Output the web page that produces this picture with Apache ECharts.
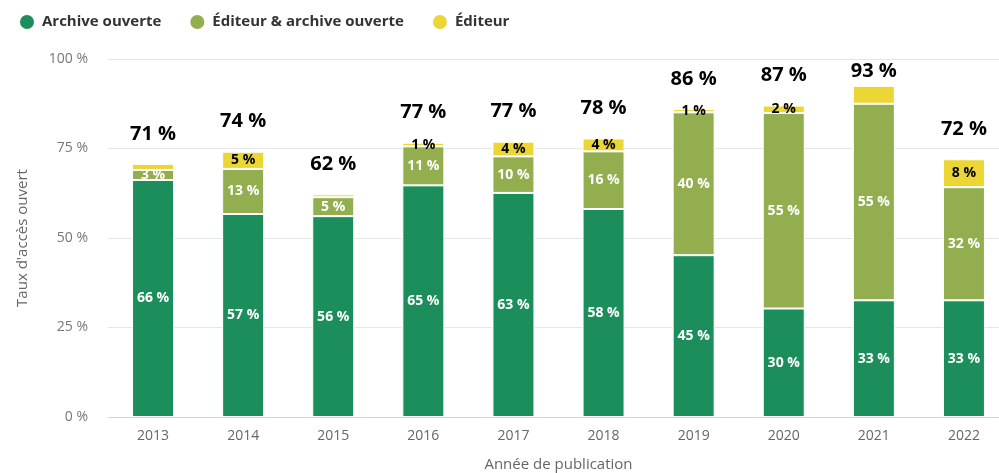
<!DOCTYPE html>
<html>
<head>
<meta charset="utf-8">
<script src="https://cdn.jsdelivr.net/npm/echarts@6/dist/echarts.min.js"></script>
<style>
  html, body { margin: 0; padding: 0; background: #fff; }
  #chart { width: 999px; height: 473px; }
</style>
</head>
<body>
<div id="chart"></div>
<script>
// années de publication
var years = ['2013', '2014', '2015', '2016', '2017', '2018', '2019', '2020', '2021', '2022'];
// taux par type d'accès (en %)
var archive = [66.2, 56.7, 56.1, 64.7, 62.6, 58.1, 45.2, 30.3, 32.6, 32.6];
var editeurArchive = [2.8, 12.6, 5.3, 10.9, 10.2, 16.1, 39.9, 54.6, 54.9, 31.6];
var editeur = [1.7, 4.8, 0.8, 1.0, 4.1, 3.6, 0.9, 2.1, 5.0, 7.8];
var totals = [71, 74, 62, 77, 77, 78, 86, 87, 93, 72];
// étiquettes masquées dans la série « Éditeur »
var hiddenEditeur = [0, 2, 8];
var yTicks = [0, 25, 50, 75, 100];

var chart = echarts.init(document.getElementById('chart'));

var labelFont = 'Open Sans, sans-serif';

function segLabel(color) {
    return {
        show: true,
        position: 'inside',
        color: color,
        fontFamily: labelFont,
        fontWeight: 'bold',
        fontSize: 14,
        formatter: function (p) { return Math.round(p.value) + ' %'; }
    };
}

var editeurData = editeur.map(function (v, i) {
    if (hiddenEditeur.indexOf(i) >= 0) {
        return { value: v, label: { show: false } };
    }
    return v;
});

var totalData = totals.map(function (t, i) {
    return {
        value: 0,
        label: { distance: i === 8 ? 5 : 20 }
    };
});

var option = {
    animation: false,
    legend: {
        left: 13,
        top: 8,
        itemGap: 27,
        icon: 'circle',
        itemWidth: 20,
        itemHeight: 16,
        textStyle: { fontSize: 15, fontWeight: 'bold', color: '#333', fontFamily: labelFont },
        data: ['Archive ouverte', 'Éditeur & archive ouverte', 'Éditeur']
    },
    grid: { left: 108, width: 901, top: 59, height: 358, outerBoundsMode: 'none' },
    xAxis: {
        type: 'category',
        data: years,
        name: 'Année de publication',
        nameLocation: 'middle',
        nameGap: 40,
        nameTextStyle: { fontSize: 15, color: '#666', fontFamily: labelFont },
        axisLine: { lineStyle: { color: '#ccd6eb' } },
        axisTick: { show: false },
        axisLabel: { fontSize: 14, color: '#666', margin: 12, fontFamily: labelFont }
    },
    yAxis: {
        type: 'value',
        min: yTicks[0],
        max: yTicks[yTicks.length - 1],
        interval: 25,
        name: "Taux d'accès ouvert",
        nameLocation: 'middle',
        nameGap: 78,
        nameTextStyle: { fontSize: 15, color: '#666', fontFamily: labelFont },
        axisLabel: { fontSize: 14, color: '#777', margin: 20, fontFamily: labelFont,
            formatter: function (v) { return v + ' %'; } },
        splitLine: { lineStyle: { color: '#e6e6e6' } }
    },
    color: ['#1b8e5b', '#93ae4f', '#ebd636'],
    series: [
        {
            name: 'Archive ouverte',
            type: 'bar',
            stack: 'oa',
            barWidth: 42,
            itemStyle: { borderColor: '#fff', borderWidth: 1 },
            label: segLabel('#fff'),
            data: archive
        },
        {
            name: 'Éditeur & archive ouverte',
            type: 'bar',
            stack: 'oa',
            itemStyle: { borderColor: '#fff', borderWidth: 1 },
            label: segLabel('#fff'),
            data: editeurArchive
        },
        {
            name: 'Éditeur',
            type: 'bar',
            stack: 'oa',
            itemStyle: { borderColor: '#fff', borderWidth: 1 },
            label: segLabel('#000'),
            data: editeurData
        },
        {
            name: 'Total',
            type: 'bar',
            stack: 'oa',
            silent: true,
            itemStyle: { color: 'transparent' },
            label: {
                show: true,
                position: 'top',
                color: '#000',
                fontFamily: labelFont,
                fontWeight: 'bold',
                fontSize: 20,
                formatter: function (p) { return totals[p.dataIndex] + ' %'; }
            },
            data: totalData
        }
    ]
};

chart.setOption(option);
</script>
</body>
</html>
